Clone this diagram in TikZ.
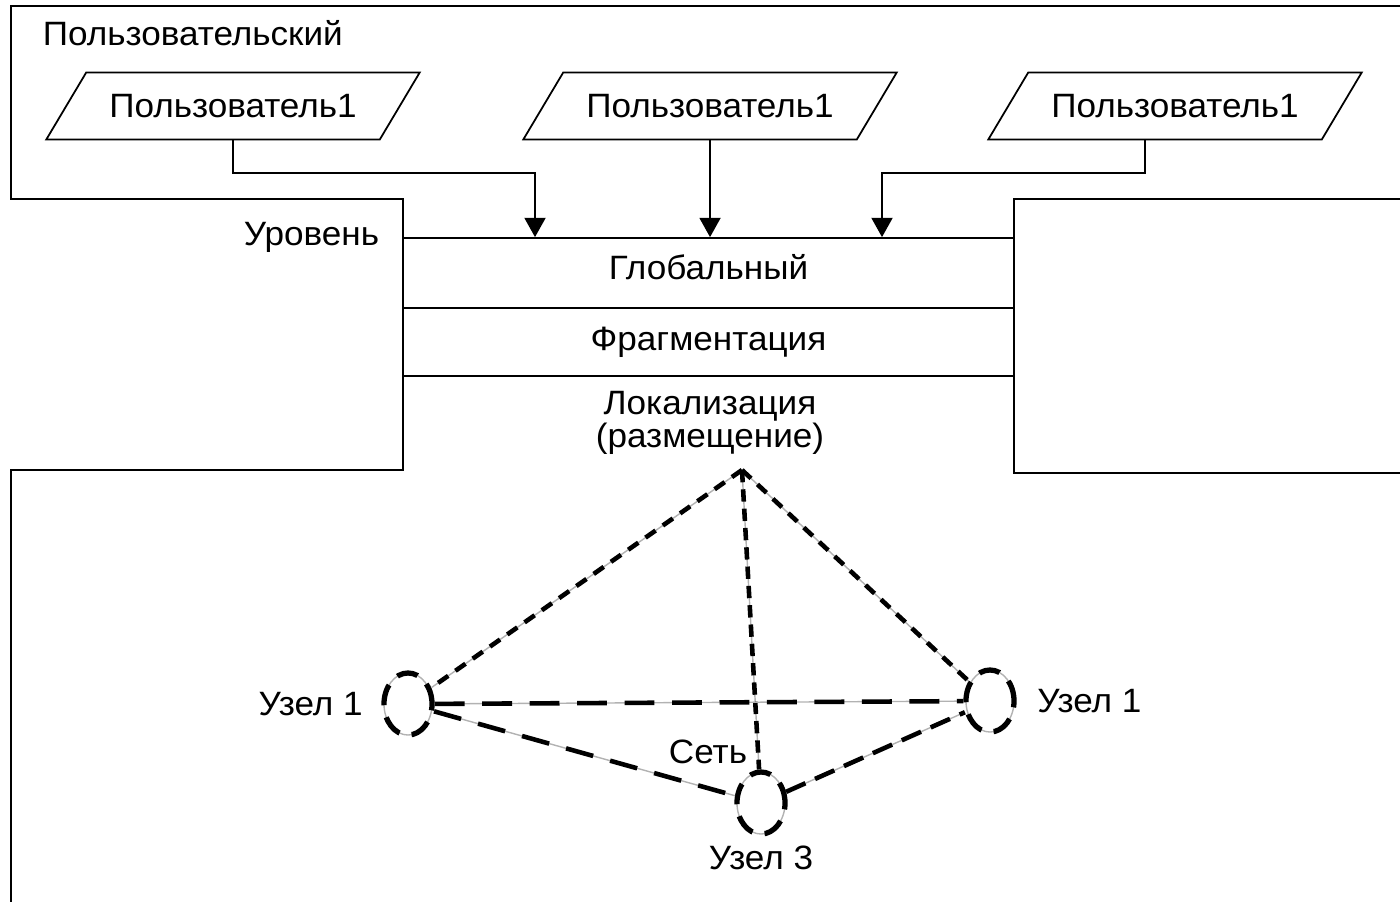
\documentclass[tikz,border=0pt]{standalone}
\usepackage{fontspec}
\setmainfont{Liberation Sans}[FakeStretch=1.04]
\usetikzlibrary{shapes.geometric,arrows.meta,positioning}

\tikzset{
  nutzer/.style={trapezium, draw, trapezium left angle=35, trapezium right angle=145,
    trapezium stretches=true, minimum width=3.76cm, minimum height=0.67cm, inner sep=0pt},
  schicht/.style={draw, minimum width=6.11cm, inner sep=0pt},
  pfeil/.style={-{Triangle[width=6pt,length=5.5pt]}},
  knoten/.style={ellipse, draw, line width=1.5pt, dash pattern=on 6pt off 3.5pt,
    preaction={draw=gray!60, line width=0.4pt, solid},
    minimum width=0.48cm, minimum height=0.62cm, inner sep=0pt},
  verb/.style={line width=1.3pt, preaction={draw=gray!60, line width=0.4pt, solid}},
}

\begin{document}
\begin{tikzpicture}[x=0.01cm, y=-0.01cm, line width=0.5pt, font=\fontsize{9.6pt}{8.5pt}\selectfont]
  \useasboundingbox (0,0) rectangle (1400,902);

  % Rahmen
  \draw (1400,6) -- (11,6) -- (11,199) -- (403,199) -- (403,470) -- (11,470) -- (11,902);
  \draw (1400,199) -- (1014,199) -- (1014,473) -- (1400,473);

  % Ebenen
  \node[anchor=west, inner xsep=0pt] (ebene1) at (42,33) {Пользовательский};
  \node[anchor=east, inner xsep=0pt] (ebene2) at (380,237) {Уровень};
  \node[schicht, minimum height=0.70cm, text depth=0.12cm] (glob) at (708.5,273) {Глобальный};
  \node[schicht, minimum height=0.68cm] (frag) at (708.5,342) {Фрагментация};
  \node[align=center] (lok) at (710,423) {Локализация\\[-0.5pt](размещение)};

  % Nutzer
  \node[nutzer] (u1) at (233,106) {Пользователь1};
  \node[nutzer] (u2) at (710,106) {Пользователь1};
  \node[nutzer] (u3) at (1175,106) {Пользователь1};

  \draw[pfeil] (u1.south) |- (535,173) -- (535,0 |- glob.north);
  \draw[pfeil] (u2.south) -- (u2.south |- glob.north);
  \draw[pfeil] ([xshift=-0.3cm]u3.south) |- (882,173) -- (882,0 |- glob.north);

  % Netz
  \coordinate (spitze) at (742,470);
  \node[knoten] (k1) at (408,704) {};
  \node[knoten] (k2) at (990,701) {};
  \node[knoten] (k3) at (761,803) {};
  \node[left=0.06cm of k1] (lk1) {Узел 1};
  \node[right=0.08cm of k2] (lk2) {Узел 1};
  \node[below=-0.03cm of k3] (lk3) {Узел 3};
  \node (netz) at (708,752) {Сеть};

  \draw[verb, dash pattern=on 3.5pt off 2.5pt] (spitze) -- (k1);
  \draw[verb, dash pattern=on 3.5pt off 2.5pt] (spitze) -- (k2);
  \draw[verb, dash pattern=on 3.5pt off 2pt] (spitze) -- (k3);
  \draw[verb, dash pattern=on 8.5pt off 5pt] (k1) -- (k2);
  \draw[verb, dash pattern=on 8pt off 5pt] (k1) -- (k3);
  \draw[verb, dash pattern=on 6pt off 3pt] (k3) -- (k2);

\end{tikzpicture}
\end{document}
